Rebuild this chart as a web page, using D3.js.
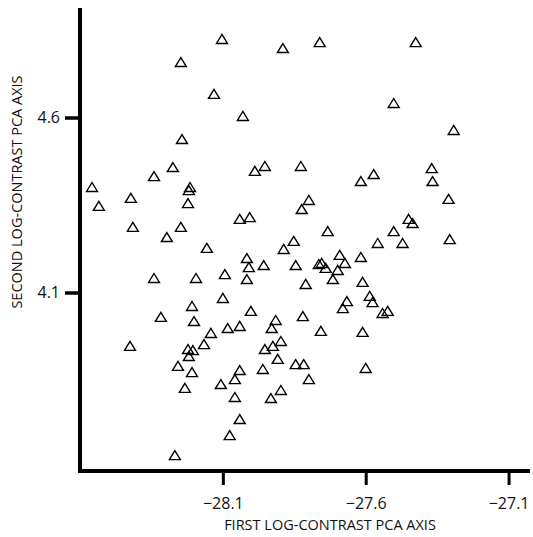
<!DOCTYPE html>
<html>
<head>
<meta charset="utf-8">
<script src="https://cdn.jsdelivr.net/npm/d3@7"></script>
<style>
  html, body { margin: 0; padding: 0; background: #fff; }
  svg { display: block; }
  text { font-family: "Open Sans", "DejaVu Sans", sans-serif; fill: #111; }
</style>
</head>
<body>
<svg id="chart" width="533" height="537"></svg>
<script>
// Data
const firstAxis = [
  -28.103, -28.247, -28.131, -28.243, -28.275, -28.341, -28.558, -28.215, -28.219, -28.422,
  -28.534, -28.222, -28.415, -28.247, -28.296, -28.156, -27.890, -27.761, -28.030, -27.988,
  -27.953, -27.827, -27.617, -27.572, -27.799, -27.824, -28.041, -28.006, -27.733, -27.852,
  -27.887, -27.558, -27.425, -27.502, -27.292, -27.369, -27.366, -27.310, -27.450, -27.436,
  -27.502, -27.471, -27.306, -28.341, -28.194, -28.093, -28.100, -28.208, -28.317, -28.201,
  -28.142, -28.425, -28.166, -28.222, -28.205, -28.219, -28.257, -28.208, -28.233, -28.107,
  -28.268, -28.016, -28.009, -27.957, -27.845, -27.764, -27.754, -27.740, -27.691, -27.673,
  -27.698, -27.617, -28.016, -27.810, -27.715, -27.611, -27.586, -27.576, -27.666, -27.680,
  -27.541, -27.523, -28.002, -27.820, -27.915, -27.929, -28.083, -28.041, -27.757, -27.611,
  -27.897, -27.953, -27.925, -27.908, -27.845, -27.817, -27.960, -28.041, -28.058, -27.799,
  -27.897, -27.932, -28.058, -28.041, -28.076, -27.600
];
const secondAxis = [
  4.823, 4.757, 4.666, 4.537, 4.457, 4.431, 4.400, 4.400, 4.391, 4.369,
  4.346, 4.354, 4.286, 4.286, 4.257, 4.226, 4.797, 4.814, 4.603, 4.446,
  4.460, 4.460, 4.417, 4.437, 4.363, 4.337, 4.309, 4.314, 4.274, 4.246,
  4.223, 4.240, 4.814, 4.640, 4.563, 4.454, 4.417, 4.366, 4.309, 4.297,
  4.274, 4.240, 4.251, 4.140, 4.140, 4.151, 4.083, 4.060, 4.029, 4.017,
  3.983, 3.946, 3.951, 3.937, 3.934, 3.917, 3.889, 3.871, 3.826, 3.837,
  3.634, 4.197, 4.171, 4.177, 4.177, 4.180, 4.183, 4.169, 4.206, 4.183,
  4.163, 4.200, 4.137, 4.123, 4.137, 4.129, 4.089, 4.071, 4.074, 4.054,
  4.040, 4.046, 4.046, 4.031, 4.020, 3.997, 3.997, 4.003, 3.989, 3.986,
  3.960, 3.937, 3.946, 3.909, 3.894, 3.894, 3.880, 3.877, 3.851, 3.851,
  3.820, 3.797, 3.800, 3.737, 3.691, 3.883
];
const xTicks = [-28.1, -27.6, -27.1];
const yTicks = [4.1, 4.6];
const xTitle = "FIRST LOG-CONTRAST PCA AXIS";
const yTitle = "SECOND LOG-CONTRAST PCA AXIS";

const points = firstAxis.map((v, i) => ({x: v, y: secondAxis[i]}));

const svg = d3.select("#chart");
const mLeft = 80, mRight = 520, mTop = 9, mBottom = 471;

const x = d3.scaleLinear().domain([-28.6, -27.06]).range([mLeft, mRight]);
const y = d3.scaleLinear().domain([3.59, 4.91]).range([mBottom, mTop]);

const fmt = d3.format(".1f");

// X axis
const gx = svg.append("g").attr("transform", `translate(0,${mBottom})`)
  .call(d3.axisBottom(x).tickValues(xTicks).tickSize(14).tickSizeOuter(0).tickFormat(fmt));
gx.select(".domain").remove();
gx.selectAll(".tick line").attr("stroke", "#000").attr("stroke-width", 3);
gx.selectAll(".tick text").attr("y", 38).attr("dy", 0)
  .attr("font-size", 16).attr("font-family", "Open Sans, sans-serif").attr("fill", "#111");

// Y axis
const gy = svg.append("g").attr("transform", `translate(${mLeft},0)`)
  .call(d3.axisLeft(y).tickValues(yTicks).tickSize(15).tickSizeOuter(0).tickFormat(fmt));
gy.select(".domain").remove();
gy.selectAll(".tick line").attr("stroke", "#000").attr("stroke-width", 3.5);
gy.selectAll(".tick text").attr("x", -20).attr("dy", "0.3em")
  .attr("font-size", 16).attr("font-family", "Open Sans, sans-serif").attr("fill", "#111");

// Axis lines
svg.append("line").attr("x1", mLeft).attr("x2", mLeft).attr("y1", 8).attr("y2", mBottom + 2)
  .attr("stroke", "#000").attr("stroke-width", 4);
svg.append("line").attr("x1", mLeft - 2).attr("x2", 530).attr("y1", mBottom).attr("y2", mBottom)
  .attr("stroke", "#000").attr("stroke-width", 4);

// Titles
svg.append("text").attr("x", 330).attr("y", 530).attr("text-anchor", "middle")
  .attr("font-size", 14.5).text(xTitle);
svg.append("text").attr("transform", "translate(22,192) rotate(-90)")
  .attr("text-anchor", "middle").attr("font-size", 14.5).text(yTitle);

// Triangles
const tri = "M0,-5L5.5,4L-5.5,4Z";
svg.append("g").selectAll("path").data(points).join("path")
  .attr("transform", d => `translate(${x(d.x)},${y(d.y)})`)
  .attr("d", tri)
  .attr("fill", "none")
  .attr("stroke", "#000")
  .attr("stroke-width", 1.4)
  .attr("stroke-linejoin", "miter");
</script>
</body>
</html>
